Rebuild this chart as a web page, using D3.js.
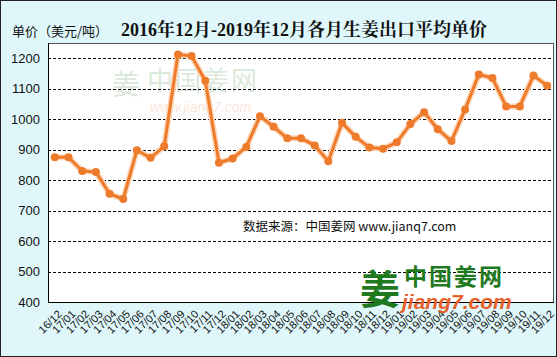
<!DOCTYPE html>
<html>
<head>
<meta charset="utf-8">
<script src="https://cdn.jsdelivr.net/npm/d3@7"></script>
<style>
  body { margin: 0; background: #fff; }
  svg { display: block; }
</style>
</head>
<body>
<div id="chart"></div>
<script>
// Monthly labels, 16/12 .. 19/12
const months = ["16/12",
  "17/01", "17/02", "17/03", "17/04", "17/05", "17/06", "17/07", "17/08", "17/09", "17/10", "17/11", "17/12",
  "18/01", "18/02", "18/03", "18/04", "18/05", "18/06", "18/07", "18/08", "18/09", "18/10", "18/11", "18/12",
  "19/01", "19/02", "19/03", "19/04", "19/05", "19/06", "19/07", "19/08", "19/09", "19/10", "19/11", "19/12"];

// Average export price (USD/ton)
const prices = [875,
  875, 830, 827, 755, 738, 898, 873, 911, 1212, 1207, 1126, 857,
  871, 909, 1010, 975, 937, 937, 914, 862, 988, 942, 907, 903,
  924, 984, 1023, 967, 928, 1032, 1147, 1135, 1042, 1042, 1143, 1110];

const yTicks = [400, 500, 600, 700, 800, 900, 1000, 1100, 1200];

const width = 557, height = 357;
const plot = { left: 48, right: 554, top: 43, bottom: 302 };
const lineColor = "#ee7b2c";

const svg = d3.select("#chart").append("svg")
    .attr("width", width)
    .attr("height", height);

// outer background with frame
svg.append("rect")
    .attr("x", 0.5).attr("y", 0.5)
    .attr("width", width - 1).attr("height", height - 1)
    .attr("fill", "#dff7fa")
    .attr("stroke", "#222");

// plot area
svg.append("rect")
    .attr("x", plot.left).attr("y", plot.top)
    .attr("width", plot.right - plot.left).attr("height", plot.bottom - plot.top)
    .attr("fill", "#fff");

const x = d3.scaleBand()
    .domain(months)
    .range([plot.left, plot.right]);

const y = d3.scaleLinear()
    .domain([400, 1250])
    .range([plot.bottom, plot.top]);

// faint watermark in the upper left
const wm = svg.append("g").attr("opacity", 0.18);
wm.append("text")
    .attr("x", 112).attr("y", 95)
    .attr("font-family", "Noto Sans CJK SC")
    .attr("font-size", 28)
    .attr("fill", "#3a8a3a")
    .text("姜");
wm.append("text")
    .attr("x", 147).attr("y", 90)
    .attr("font-family", "Noto Sans CJK SC")
    .attr("font-size", 26)
    .attr("fill", "#3a8a3a")
    .attr("letter-spacing", 2)
    .text("中国姜网");
wm.append("text")
    .attr("x", 150).attr("y", 112)
    .attr("font-family", "Liberation Sans")
    .attr("font-size", 14)
    .attr("font-style", "italic")
    .attr("fill", "#e07a3a")
    .text("www.jiang7.com");

// gridlines
svg.append("g")
    .selectAll("line")
    .data(yTicks.slice(1))
    .join("line")
    .attr("x1", plot.left).attr("x2", plot.right)
    .attr("y1", d => Math.round(y(d)) + 0.5)
    .attr("y2", d => Math.round(y(d)) + 0.5)
    .attr("stroke", "#000")
    .attr("stroke-dasharray", "3,2");

// plot border
svg.append("rect")
    .attr("x", plot.left + 0.5).attr("y", plot.top + 0.5)
    .attr("width", plot.right - plot.left - 1).attr("height", plot.bottom - plot.top)
    .attr("fill", "none")
    .attr("stroke", "#555");
svg.append("line")
    .attr("x1", plot.left + 0.5).attr("x2", plot.left + 0.5)
    .attr("y1", plot.top).attr("y2", plot.bottom + 1)
    .attr("stroke", "#000");
svg.append("line")
    .attr("x1", plot.left).attr("x2", plot.right)
    .attr("y1", plot.bottom + 0.5).attr("y2", plot.bottom + 0.5)
    .attr("stroke", "#000");

// y axis
const yAxis = svg.append("g")
    .attr("transform", `translate(${plot.left},0)`)
    .call(d3.axisLeft(y).tickValues(yTicks).tickFormat(d3.format("d")).tickSize(0).tickPadding(8));
yAxis.select(".domain").remove();
yAxis.selectAll("text")
    .attr("font-family", "Liberation Sans")
    .attr("font-size", 13)
    .attr("fill", "#111");

// x axis, rotated labels
const xAxis = svg.append("g")
    .attr("transform", `translate(0,${plot.bottom})`)
    .call(d3.axisBottom(x).tickSize(0).tickPadding(0));
xAxis.select(".domain").remove();
xAxis.selectAll("text")
    .attr("font-family", "Liberation Sans")
    .attr("font-size", 11)
    .attr("fill", "#111")
    .attr("text-anchor", "end")
    .attr("dy", "0.35em")
    .attr("transform", "translate(5,10) rotate(-45)");

// source note
svg.append("text")
    .attr("x", 243).attr("y", 231)
    .attr("font-family", "Noto Sans CJK SC")
    .attr("font-size", 12.5)
    .attr("fill", "#111")
    .text("数据来源：中国姜网 www.jianq7.com");

// logo bottom right
const logo = svg.append("g");
logo.append("text")
    .attr("x", 360).attr("y", 304)
    .attr("font-family", "Noto Sans CJK SC")
    .attr("font-weight", "bold")
    .attr("font-size", 40)
    .attr("fill", "#1f7a1f")
    .text("姜");
logo.append("text")
    .attr("x", 404).attr("y", 285)
    .attr("font-family", "Noto Sans CJK SC")
    .attr("font-weight", "bold")
    .attr("font-size", 23)
    .attr("fill", "#1f7a1f")
    .attr("letter-spacing", 2)
    .text("中国姜网");
logo.append("text")
    .attr("x", 402).attr("y", 309)
    .attr("font-family", "Liberation Sans")
    .attr("font-weight", "bold")
    .attr("font-style", "italic")
    .attr("font-size", 21)
    .attr("fill", "#e8602a")
    .text("jiang7.com");

// line + markers
const line = d3.line()
    .x((d, i) => x(months[i]) + x.bandwidth() / 2)
    .y(d => y(d));

svg.append("path")
    .datum(prices)
    .attr("fill", "none")
    .attr("stroke", "#fbd6b8")
    .attr("stroke-width", 6)
    .attr("stroke-linejoin", "round")
    .attr("d", line);

svg.append("path")
    .datum(prices)
    .attr("fill", "none")
    .attr("stroke", lineColor)
    .attr("stroke-width", 3)
    .attr("stroke-linejoin", "round")
    .attr("d", line);

svg.append("g")
    .selectAll("circle")
    .data(prices)
    .join("circle")
    .attr("cx", (d, i) => x(months[i]) + x.bandwidth() / 2)
    .attr("cy", d => y(d))
    .attr("r", 4)
    .attr("fill", lineColor);

// titles
svg.append("text")
    .attr("x", 12).attr("y", 36)
    .attr("font-family", "Noto Sans CJK SC")
    .attr("font-size", 13)
    .attr("fill", "#111")
    .text("单价（美元/吨）");

svg.append("text")
    .attr("x", 121).attr("y", 36)
    .attr("font-family", "Liberation Serif, Noto Serif CJK SC, serif")
    .attr("font-weight", "bold")
    .attr("font-size", 18)
    .attr("fill", "#111")
    .text("2016年12月-2019年12月各月生姜出口平均单价");
</script>
</body>
</html>
